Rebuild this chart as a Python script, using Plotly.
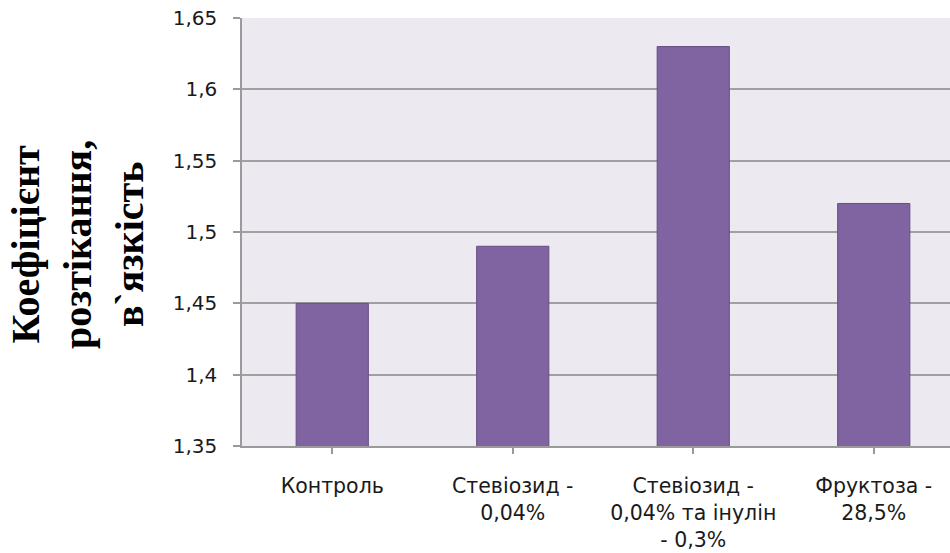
import plotly.graph_objects as go

# Spreading coefficient (viscosity) by sample
categories = [
    "Контроль",
    "Стевіозид -<br>0,04%",
    "Стевіозид -<br>0,04% та інулін<br>- 0,3%",
    "Фруктоза -<br>28,5%",
]
values = [1.45, 1.49, 1.63, 1.52]

y_tickvals = [1.35, 1.40, 1.45, 1.50, 1.55, 1.60, 1.65]
y_ticktext = ["1,35", "1,4", "1,45", "1,5", "1,55", "1,6", "1,65"]

y_title = "Коефіцієнт<br>розтікання,<br>в`язкість"

W, H = 950, 553
L, R, T, B = 242, 0, 18, 107
plot_w = W - L - R
cat_px = 180.5

fig = go.Figure()
fig.add_trace(go.Bar(
    x=list(range(len(categories))),
    y=values,
    width=0.4,
    marker=dict(color="#8064A2", line=dict(color="#664f85", width=1)),
))

fig.update_layout(
    width=W, height=H,
    margin=dict(l=L, r=R, t=T, b=B, pad=0),
    paper_bgcolor="white",
    plot_bgcolor="#ECEAF0",
    showlegend=False,
    bargap=0.6,
    xaxis=dict(
        tickmode="array",
        tickvals=list(range(len(categories))),
        ticktext=categories,
        range=[-0.5, -0.5 + plot_w / cat_px],
        showline=True, linecolor="#9a9a9a", linewidth=1.5,
        ticks="outside", ticklen=6, tickcolor="#9a9a9a", tickwidth=1.5,
        showgrid=False, zeroline=False,
        tickfont=dict(family="DejaVu Sans", size=20.5, color="#1a1a1a"),
        ticklabelstandoff=15,
    ),
    yaxis=dict(
        range=[1.35, 1.65],
        tickmode="array",
        tickvals=y_tickvals,
        ticktext=y_ticktext,
        showline=True, linecolor="#9a9a9a", linewidth=1.5,
        ticks="outside", ticklen=7, tickcolor="#9a9a9a", tickwidth=1.5,
        showgrid=True, gridcolor="#a0a0a0", gridwidth=1.5,
        zeroline=False,
        tickfont=dict(family="DejaVu Sans", size=20, color="#1a1a1a"),
        ticklabelstandoff=12,
    ),
)

# Rotated, bold serif axis title
fig.add_annotation(
    text=y_title,
    xref="paper", yref="paper",
    x=(77 - L) / plot_w,
    y=1 - (245 - T) / (H - T - B),
    xanchor="center", yanchor="middle",
    textangle=-90,
    showarrow=False,
    font=dict(family="Liberation Serif", size=40, color="#000000", weight="bold"),
)

fig.write_html("out.html")
